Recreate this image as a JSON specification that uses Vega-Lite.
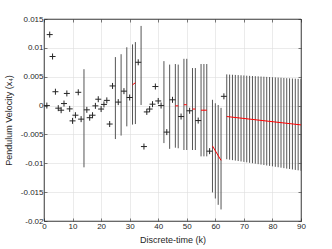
{
  "$schema": "https://vega.github.io/schema/vega-lite/v6.json",
  "width": 257,
  "height": 202,
  "autosize": "none",
  "padding": {"left": 44, "top": 19, "right": 31, "bottom": 28},
  "background": "white",
  "config": {
    "font": "Liberation Sans",
    "view": {"stroke": "#262626", "strokeWidth": 0.6},
    "axis": {
      "domainColor": "#262626",
      "domainWidth": 0.6,
      "tickColor": "#262626",
      "tickWidth": 0.6,
      "tickSize": -3,
      "labelColor": "#262626",
      "labelFontSize": 8,
      "labelFont": "Liberation Sans",
      "titleColor": "#262626",
      "titleFontSize": 9,
      "titleFontWeight": "normal",
      "titleFont": "Liberation Sans",
      "gridColor": "#dedede",
      "gridWidth": 0.6
    }
  },
  "datasets": {
    "meas": [
      {"k": 1, "v": 0}, {"k": 2, "v": 0.0123}, {"k": 3, "v": 0.0085}, {"k": 4, "v": 0.0024},
      {"k": 5, "v": -0.00045}, {"k": 6, "v": -0.0008}, {"k": 7, "v": 0.00035}, {"k": 8, "v": 0.0021},
      {"k": 9, "v": -0.00057}, {"k": 10, "v": -0.00265}, {"k": 11, "v": -0.00167}, {"k": 12, "v": 0.0023},
      {"k": 13, "v": -0.00235}, {"k": 15, "v": -0.00074}, {"k": 16, "v": -0.0021}, {"k": 17, "v": -0.00167},
      {"k": 18, "v": -0.00005}, {"k": 19, "v": 0.0011}, {"k": 20, "v": -0.0006}, {"k": 21, "v": 0.0002},
      {"k": 22, "v": 0.0009}, {"k": 23, "v": -0.0032}, {"k": 24, "v": 0.0034}, {"k": 26, "v": 0.0006},
      {"k": 28, "v": 0.0025}, {"k": 30, "v": 0.0014}, {"k": 33, "v": 0.0075}, {"k": 35, "v": -0.0071},
      {"k": 36, "v": -0.0011}, {"k": 37, "v": -0.0006}, {"k": 38, "v": 0.00024}, {"k": 39, "v": 0.0033},
      {"k": 40, "v": 0.0008}, {"k": 41, "v": 0}, {"k": 43, "v": -0.0046}, {"k": 45, "v": 0.001},
      {"k": 48, "v": -0.0019}, {"k": 51, "v": -0.0009}, {"k": 54, "v": -0.0026}, {"k": 58, "v": -0.0079},
      {"k": 63, "v": 0.0016}
    ],
    "bars": [
      {"k": 14, "hi": 0.0063, "lo": -0.0107},
      {"k": 25, "hi": 0.0084, "lo": -0.0058},
      {"k": 27, "hi": 0.0089, "lo": -0.0052},
      {"k": 29, "hi": 0.0101, "lo": -0.0036},
      {"k": 31, "hi": 0.0106, "lo": -0.0033},
      {"k": 32, "hi": 0.011, "lo": -0.0032},
      {"k": 34, "hi": 0.0138, "lo": 0.0001},
      {"k": 42, "hi": 0.0077, "lo": -0.0065},
      {"k": 44, "hi": 0.0071, "lo": -0.0075},
      {"k": 46, "hi": 0.0072, "lo": -0.0073},
      {"k": 47, "hi": 0.0071, "lo": -0.0074},
      {"k": 49, "hi": 0.0081, "lo": -0.0077},
      {"k": 50, "hi": 0.0081, "lo": -0.0077},
      {"k": 52, "hi": 0.0065, "lo": -0.0077},
      {"k": 53, "hi": 0.0065, "lo": -0.0077},
      {"k": 55, "hi": 0.0072, "lo": -0.0088},
      {"k": 56, "hi": 0.0072, "lo": -0.0088},
      {"k": 57, "hi": 0.0072, "lo": -0.0088},
      {"k": 59, "hi": 0.001, "lo": -0.01505},
      {"k": 60, "hi": 0.0004, "lo": -0.0161},
      {"k": 61, "hi": 0.0001, "lo": -0.0172},
      {"k": 62, "hi": -0.0004, "lo": -0.018},
      {"k": 64, "hi": 0.0054, "lo": -0.0093},
      {"k": 65, "hi": 0.00537, "lo": -0.00938},
      {"k": 66, "hi": 0.00534, "lo": -0.00945},
      {"k": 67, "hi": 0.00531, "lo": -0.00953},
      {"k": 68, "hi": 0.00528, "lo": -0.00961},
      {"k": 69, "hi": 0.00525, "lo": -0.00968},
      {"k": 70, "hi": 0.00522, "lo": -0.00976},
      {"k": 71, "hi": 0.00518, "lo": -0.00984},
      {"k": 72, "hi": 0.00515, "lo": -0.00992},
      {"k": 73, "hi": 0.00512, "lo": -0.00999},
      {"k": 74, "hi": 0.00509, "lo": -0.01007},
      {"k": 75, "hi": 0.00506, "lo": -0.01015},
      {"k": 76, "hi": 0.00503, "lo": -0.01022},
      {"k": 77, "hi": 0.005, "lo": -0.0103},
      {"k": 78, "hi": 0.00497, "lo": -0.01038},
      {"k": 79, "hi": 0.00494, "lo": -0.01045},
      {"k": 80, "hi": 0.00491, "lo": -0.01053},
      {"k": 81, "hi": 0.00488, "lo": -0.01061},
      {"k": 82, "hi": 0.00485, "lo": -0.01068},
      {"k": 83, "hi": 0.00482, "lo": -0.01076},
      {"k": 84, "hi": 0.00478, "lo": -0.01084},
      {"k": 85, "hi": 0.00475, "lo": -0.01092},
      {"k": 86, "hi": 0.00472, "lo": -0.01099},
      {"k": 87, "hi": 0.00469, "lo": -0.01107},
      {"k": 88, "hi": 0.00466, "lo": -0.01115},
      {"k": 89, "hi": 0.00463, "lo": -0.01122},
      {"k": 90, "hi": 0.0046, "lo": -0.0113}
    ],
    "pred": [
      {"k": 31, "v": 0.0036, "seg": "a"}, {"k": 32, "v": 0.00395, "seg": "a"},
      {"k": 46, "v": -0.00005, "seg": "b"}, {"k": 47, "v": -0.00005, "seg": "b"},
      {"k": 49, "v": 0.00015, "seg": "c"}, {"k": 50, "v": 0.00015, "seg": "c"},
      {"k": 52, "v": -0.0006, "seg": "d"}, {"k": 53, "v": -0.0006, "seg": "d"},
      {"k": 55, "v": -0.0008, "seg": "e"}, {"k": 57, "v": -0.0008, "seg": "e"},
      {"k": 59, "v": -0.007, "seg": "f"}, {"k": 62, "v": -0.0095, "seg": "f"},
      {"k": 64, "v": -0.0019, "seg": "g"}, {"k": 90, "v": -0.00335, "seg": "g"}
    ]
  },
  "resolve": {"axis": {"x": "independent", "y": "independent"}},
  "layer": [
    {
      "layer": [
        {
          "data": {"name": "bars"},
          "mark": {"type": "rule", "color": "#555555", "strokeWidth": 1},
          "encoding": {
            "x": {"field": "k", "type": "quantitative"},
            "y": {"field": "lo", "type": "quantitative"},
            "y2": {"field": "hi"}
          }
        },
        {
          "data": {"name": "pred"},
          "mark": {"type": "line", "color": "#ff0000", "strokeWidth": 1},
          "encoding": {
            "x": {"field": "k", "type": "quantitative"},
            "y": {"field": "v", "type": "quantitative"},
            "detail": {"field": "seg"}
          }
        },
        {
          "data": {"name": "meas"},
          "mark": {"type": "point", "shape": "M-1,0L1,0M0,-1L0,1", "filled": false, "stroke": "#262626", "strokeWidth": 1, "size": 36, "opacity": 1},
          "encoding": {
            "x": {"field": "k", "type": "quantitative"},
            "y": {"field": "v", "type": "quantitative"}
          }
        }
      ],
      "encoding": {
        "x": {
          "field": "k", "type": "quantitative",
          "scale": {"domain": [0, 90], "nice": false, "zero": false},
          "axis": {"values": [0, 10, 20, 30, 40, 50, 60, 70, 80, 90], "title": "Discrete-time (k)", "grid": true, "labelPadding": 4, "titlePadding": 5, "labelFlush": false}
        },
        "y": {
          "field": "v", "type": "quantitative",
          "scale": {"domain": [-0.02, 0.015], "nice": false, "zero": false},
          "axis": {"values": [-0.02, -0.015, -0.01, -0.005, 0, 0.005, 0.01, 0.015], "labelExpr": "toString(datum.value)", "title": "Pendulum Velocity (x₄)", "grid": true, "labelPadding": 4, "titlePadding": 7, "labelFlush": false}
        }
      }
    },
    {
      "data": {"name": "meas"},
      "mark": {"type": "point", "opacity": 0},
      "encoding": {
        "x": {"field": "k", "type": "quantitative", "axis": {"orient": "top", "values": [0, 10, 20, 30, 40, 50, 60, 70, 80, 90], "labels": false, "title": null, "grid": false}},
        "y": {"field": "v", "type": "quantitative", "axis": {"orient": "right", "values": [-0.02, -0.015, -0.01, -0.005, 0, 0.005, 0.01, 0.015], "labels": false, "title": null, "grid": false}}
      }
    }
  ]
}
